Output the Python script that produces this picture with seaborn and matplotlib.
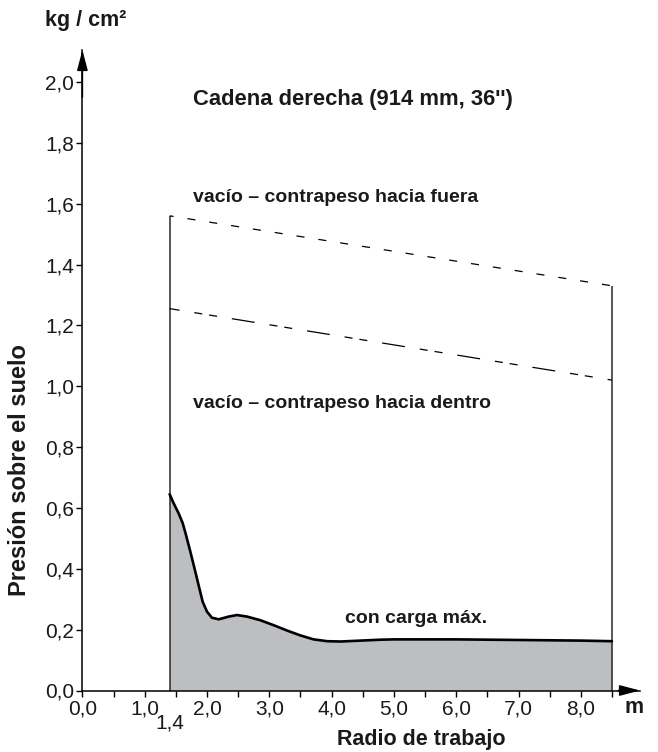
import matplotlib
matplotlib.use("Agg")
import matplotlib.pyplot as plt
import seaborn as sns
import numpy as np
import pandas as pd

# ---- data ----
radio_ext = [1.4, 8.5]
vacio_fuera = [1.56, 1.33]
vacio_dentro = [1.255, 1.02]

carga_x = [1.40, 1.465, 1.545, 1.61, 1.663, 1.733, 1.813, 1.877, 1.93, 2.0,
           2.08, 2.19, 2.35, 2.48, 2.64, 2.855, 3.065, 3.285, 3.50, 3.71,
           3.93, 4.145, 4.47, 4.79, 5.0, 5.5, 6.0, 6.5, 7.0, 7.5, 8.0, 8.5]
carga_y = [0.645, 0.615, 0.582, 0.550, 0.511, 0.456, 0.390, 0.336, 0.292, 0.259,
           0.239, 0.234, 0.243, 0.248, 0.243, 0.231, 0.215, 0.197, 0.181, 0.168,
           0.162, 0.161, 0.164, 0.167, 0.168, 0.168, 0.168, 0.167, 0.166, 0.165, 0.164, 0.162]

x_ticks = [0.0, 0.5, 1.0, 1.5, 2.0, 2.5, 3.0, 3.5, 4.0, 4.5, 5.0, 5.5, 6.0, 6.5, 7.0, 7.5, 8.0, 8.5]
x_labels = ["0,0", "", "1,0", "", "2,0", "", "3,0", "", "4,0", "", "5,0", "", "6,0", "", "7,0", "", "8,0", ""]
y_ticks = [0.0, 0.2, 0.4, 0.6, 0.8, 1.0, 1.2, 1.4, 1.6, 1.8, 2.0]
y_labels = ["0,0", "0,2", "0,4", "0,6", "0,8", "1,0", "1,2", "1,4", "1,6", "1,8", "2,0"]

# ---- style ----
sns.set_theme(style="white")
plt.rcParams["font.family"] = ["Liberation Sans", "DejaVu Sans"]
plt.rcParams["lines.scale_dashes"] = False

W, H = 658, 752
fig = plt.figure(figsize=(W / 100, H / 100), dpi=100)

def fx(px):
    return px / W

def fy(py):
    return 1 - py / H

x0, x1 = 82.4, 640.0
y0, y1 = 690.5, 50.0
ax = fig.add_axes([fx(x0), fy(y0), fx(x1) - fx(x0), fy(y1) - fy(y0)])
ax.set_xlim(0, 8.95)
ax.set_ylim(0, 2.105)

for s in ["top", "right"]:
    ax.spines[s].set_visible(False)
for s in ["left", "bottom"]:
    ax.spines[s].set_color("black")
    ax.spines[s].set_linewidth(1.1)

# filled curve
df = pd.DataFrame({"x": carga_x, "y": carga_y})
ax.fill_between(df["x"], df["y"], color="#bdbec1", lw=0, zorder=1)
sns.lineplot(data=df, x="x", y="y", ax=ax, color="black", lw=1.9, zorder=3)
ax.lines[-1].set_solid_joinstyle("round")

# vertical boundaries
ax.vlines(radio_ext, 0, vacio_fuera, color="#2a2a2a", lw=1.1, zorder=2)

# dashed lines
sns.lineplot(x=radio_ext, y=vacio_fuera, ax=ax, color="black", lw=0.9, zorder=2)
ax.lines[-1].set_linestyle((2.9, (5.8, 10.1)))
sns.lineplot(x=radio_ext, y=vacio_dentro, ax=ax, color="black", lw=0.9, zorder=2)
ax.lines[-1].set_linestyle((9.4, (16.6, 10.8, 5.8, 5.0, 5.8, 10.8)))

# ticks
ax.set_xticks(x_ticks)
ax.set_xticklabels(x_labels)
ax.set_yticks(y_ticks)
ax.set_yticklabels(y_labels)
ax.tick_params(axis="both", direction="out", length=4, width=1.0, color="black",
               labelsize=15, labelcolor="#1a1a1a", bottom=True, left=True)
ax.tick_params(axis="x", pad=2.5)
ax.tick_params(axis="y", pad=2)
ax.set_xlabel("")
ax.set_ylabel("")

# arrows
ax.annotate("", xy=(8.95, 0), xytext=(8.6, 0), xycoords="data",
            arrowprops=dict(arrowstyle="-|>,head_length=1.25,head_width=0.33",
                            mutation_scale=10, color="black", lw=1.1,
                            shrinkA=0, shrinkB=0), annotation_clip=False)
ax.annotate("", xy=(0, 2.105), xytext=(0, 1.95), xycoords="data",
            arrowprops=dict(arrowstyle="-|>,head_length=1.25,head_width=0.33",
                            mutation_scale=10, color="black", lw=1.1,
                            shrinkA=0, shrinkB=0), annotation_clip=False)

# texts
bold = dict(fontweight="bold", color="#1a1a1a")
fig.text(fx(45), fy(26), "kg / cm²", fontsize=15.5, va="baseline", ha="left", **bold)
fig.text(fx(193), fy(105), "Cadena derecha (914 mm, 36'')", fontsize=15.8, va="baseline", ha="left", **bold)
fig.text(fx(193), fy(202), "vacío – contrapeso hacia fuera", fontsize=14, va="baseline", ha="left", **bold)
fig.text(fx(193), fy(408), "vacío – contrapeso hacia dentro", fontsize=14, va="baseline", ha="left", **bold)
fig.text(fx(345), fy(623), "con carga máx.", fontsize=14, va="baseline", ha="left", **bold)
fig.text(fx(625), fy(713), "m", fontsize=15.5, va="baseline", ha="left", **bold)
fig.text(fx(337), fy(745), "Radio de trabajo", fontsize=15.5, va="baseline", ha="left", **bold)
fig.text(fx(20), fy(470), "Presión sobre el suelo", fontsize=17, rotation=90,
         va="center", ha="center", **bold)
ax.text(1.4, -0.075, "1,4", transform=ax.transData, fontsize=15, color="#1a1a1a",
        ha="center", va="top")

fig.savefig("out.png", dpi=100)
